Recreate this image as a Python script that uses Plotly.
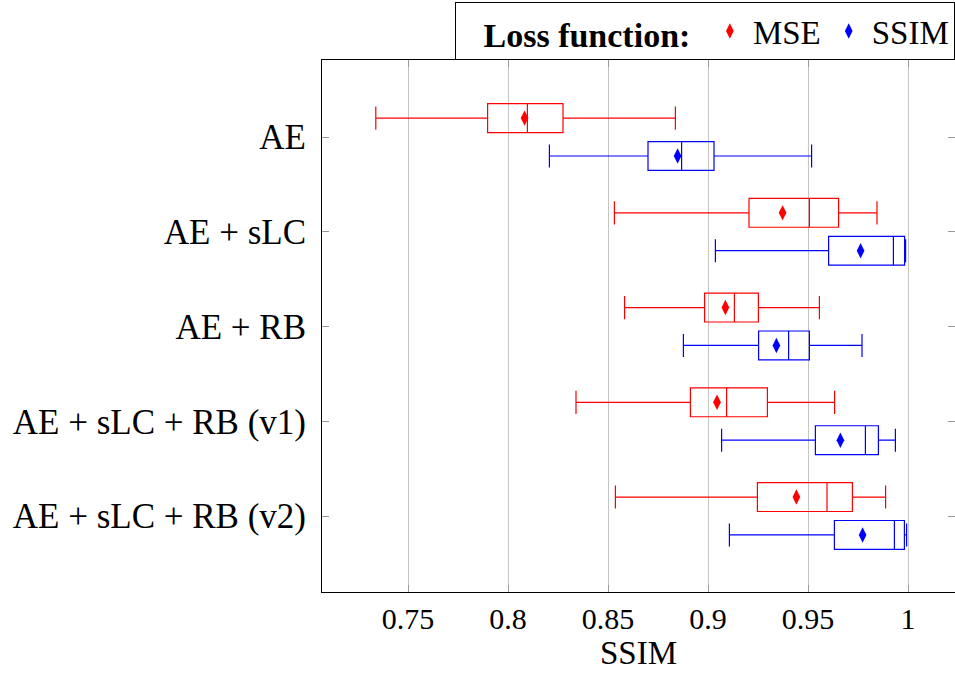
import plotly.graph_objects as go

methods = ["AE", "AE + sLC", "AE + RB", "AE + sLC + RB (v1)", "AE + sLC + RB (v2)"]

mse_low = [0.7339, 0.8532, 0.8583, 0.8340, 0.8537]
mse_q1 = [0.7898, 0.9205, 0.8983, 0.8912, 0.9247]
mse_med = [0.8097, 0.9507, 0.9132, 0.9093, 0.9595]
mse_q3 = [0.8275, 0.9653, 0.9252, 0.9297, 0.9722]
mse_high = [0.8837, 0.9845, 0.9557, 0.9633, 0.9888]
mse_mean = [0.8083, 0.9373, 0.9087, 0.9045, 0.9442]

ssim_low = [0.8207, 0.9037, 0.8877, 0.9068, 0.9107]
ssim_q1 = [0.8700, 0.9603, 0.9253, 0.9537, 0.9632]
ssim_med = [0.8868, 0.9927, 0.9403, 0.9787, 0.9932]
ssim_q3 = [0.9030, 0.9983, 0.9507, 0.9852, 0.9982]
ssim_high = [0.9518, 0.9988, 0.9770, 0.9937, 0.9993]
ssim_mean = [0.8848, 0.9763, 0.9342, 0.9662, 0.9773]

x_ticks = [0.75, 0.8, 0.85, 0.9, 0.95, 1.0]
x_ticktext = ["0.75", "0.8", "0.85", "0.9", "0.95", "1"]

FONT = "Liberation Serif"
pos = list(range(len(methods)))
off = 0.2

fig = go.Figure()

series = [
    ("MSE", "#ff0000", -off, mse_low, mse_q1, mse_med, mse_q3, mse_high, mse_mean),
    ("SSIM", "#0000ff", off, ssim_low, ssim_q1, ssim_med, ssim_q3, ssim_high, ssim_mean),
]

for name, color, o, lo, q1, med, q3, hi, mean in series:
    ys = [p + o for p in pos]
    fig.add_trace(go.Box(
        orientation="h",
        y=ys,
        q1=q1, median=med, q3=q3, lowerfence=lo, upperfence=hi,
        width=0.305,
        whiskerwidth=0.8,
        line=dict(color=color, width=1.2),
        fillcolor="rgba(255,255,255,0)",
        boxpoints=False,
        showlegend=False,
        hoverinfo="skip",
    ))
    fig.add_trace(go.Scatter(
        x=mean, y=ys, mode="markers", name=name,
        marker=dict(symbol="diamond-tall", size=11, color=color, line=dict(width=0)),
    ))

fig.update_layout(
    width=955, height=673,
    margin=dict(l=322, r=0, t=60, b=81, autoexpand=False),
    paper_bgcolor="white", plot_bgcolor="white",
    font=dict(family=FONT, size=31, color="black"),
    boxmode="overlay",
    showlegend=True,
    legend=dict(
        orientation="h", x=1.0, xanchor="right", y=1, yanchor="bottom",
        bordercolor="black", borderwidth=1, bgcolor="white",
        title=dict(text="\u00a0\u00a0\u00a0<b>Loss function:</b>\u00a0", font=dict(family=FONT, size=34)),
        font=dict(family=FONT, size=33),
        itemsizing="trace", itemwidth=36,
    ),
    xaxis=dict(
        range=[0.707, 1.0235],
        tickvals=x_ticks, ticktext=x_ticktext,
        ticks="inside", ticklen=7, tickcolor="#999999",
        showline=True, linecolor="black", linewidth=1, mirror="ticks",
        showgrid=True, gridcolor="#c4c4c4", gridwidth=1.2, zeroline=False,
        title=dict(text="SSIM", standoff=6, font=dict(size=33)),
        tickfont=dict(size=30),
    ),
    yaxis=dict(
        range=[4.802, -0.813],
        tickvals=pos, ticktext=methods,
        ticks="inside", ticklen=7, tickcolor="#999999",
        showline=True, linecolor="black", linewidth=1, mirror="ticks",
        showgrid=False, zeroline=False,
        tickfont=dict(size=35),
        ticklabelstandoff=8,
    ),
)

fig.write_html("out.html")
